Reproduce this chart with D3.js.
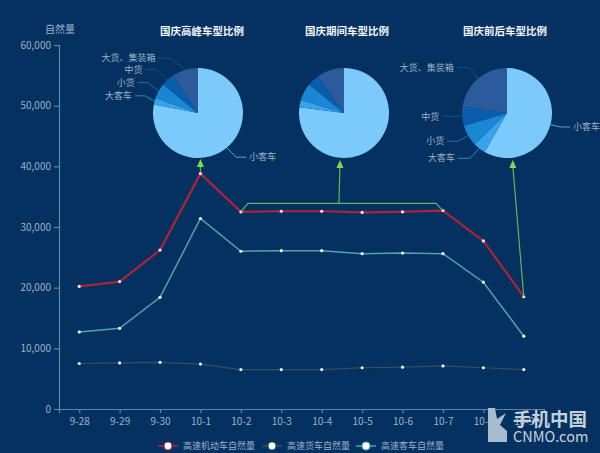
<!DOCTYPE html>
<html>
<head>
<meta charset="utf-8">
<script src="https://cdn.jsdelivr.net/npm/d3@7"></script>
<style>
html, body { margin: 0; padding: 0; background: #04315f; overflow: hidden; }
text { font-family: "Noto Sans CJK SC", "Noto Sans", sans-serif; }
</style>
</head>
<body>
<div id="chart"></div>
<script>
// chart data
let days = ['9-28', '9-29', '9-30', '10-1', '10-2', '10-3', '10-4', '10-5', '10-6', '10-7', '10-8', '10-9'];
let motorFlow = [20200, 21000, 26200, 38800, 32500, 32600, 32600, 32400, 32500, 32700, 27700, 18500];
let truckFlow = [7500, 7600, 7700, 7400, 6500, 6500, 6500, 6800, 6900, 7100, 6800, 6500];
let coachFlow = [12700, 13300, 18400, 31400, 26000, 26100, 26100, 25600, 25700, 25600, 20900, 12000];
let seriesNames = ['高速机动车自然量', '高速货车自然量', '高速客车自然量'];
let yTicks = [0, 10000, 20000, 30000, 40000, 50000, 60000];

let vehicleTypes = ['小客车', '大客车', '小货', '中货', '大货、集装箱'];
let peakShare = [78, 2.4, 5.5, 4.7, 9.4];
let holidayShare = [77, 2.7, 6.2, 4.2, 9.9];
let edgeShare = [58.3, 4.5, 7.6, 6.9, 22.7];
let pieTitles = ['国庆高峰车型比例', '国庆期间车型比例', '国庆前后车型比例'];

// configuration of svg/plot area
let config = {
    svg: {width: 600, height: 453},
    margin: {top: 45, right: 56, bottom: 44, left: 59},
    pieRadius: 45
};
let colors = {
    axis: '#5d86ab', text: '#9db2ca', title: '#f2f6fa', arrow: '#63b560', head: '#86d455',
    pie: ['#7bcafb', '#38a3ea', '#1a86d4', '#0a5dab', '#2b5b9b'],
    lines: ['#a9243c', '#2f5262', '#4fa3b3']
};

let svg = d3.select('#chart').append('svg')
    .attr('width', config.svg.width)
    .attr('height', config.svg.height);

let x = d3.scalePoint()
    .domain(days)
    .range([config.margin.left, config.svg.width - config.margin.right])
    .padding(0.5);
let y = d3.scaleLinear()
    .domain([0, 60000])
    .range([config.svg.height - config.margin.bottom, config.margin.top]);

// axes
let styleAxis = g => g
    .call(g => g.selectAll('.domain, .tick line').attr('stroke', colors.axis).attr('stroke-width', 1.2))
    .call(g => g.selectAll('text').attr('fill', colors.text).attr('font-size', 10));

svg.append('g')
    .attr('transform', `translate(0,${y(0)})`)
    .call(d3.axisBottom(x).tickSizeOuter(0).tickSize(4).tickPadding(5))
    .call(styleAxis);

svg.append('g')
    .attr('transform', `translate(${config.margin.left},0)`)
    .call(d3.axisLeft(y).tickValues(yTicks).tickFormat(d3.format(',')).tickSizeOuter(0).tickSize(5).tickPadding(3))
    .call(styleAxis);

svg.append('text')
    .attr('x', 60).attr('y', 33)
    .attr('text-anchor', 'middle')
    .attr('fill', colors.text)
    .attr('font-size', 10)
    .text('自然量');

// lines
let line = d3.line()
    .x((d, i) => x(days[i]))
    .y(d => y(d));

[truckFlow, coachFlow, motorFlow].forEach(values => {
    let idx = [motorFlow, truckFlow, coachFlow].indexOf(values);
    let widths = [2.2, 1.2, 1.5];
    svg.append('path')
        .datum(values)
        .attr('fill', 'none')
        .attr('stroke', colors.lines[idx])
        .attr('stroke-width', widths[idx])
        .attr('d', line);
    svg.append('g')
        .selectAll('circle')
        .data(values)
        .join('circle')
            .attr('cx', (d, i) => x(days[i]))
            .attr('cy', d => y(d))
            .attr('r', 1.6)
            .attr('fill', idx === 0 ? '#ffe9ee' : '#e8f6fa');
});

// pies
let pieCenters = [198, 344, 507];
let pieCenterY = 113;
let titleCenters = [202, 347, 505];
let pie = d3.pie().sort(null).value(d => d);
let arc = d3.arc().innerRadius(0).outerRadius(config.pieRadius);
let outer = d3.arc().innerRadius(config.pieRadius).outerRadius(config.pieRadius);
let elbow = d3.arc().innerRadius(config.pieRadius + 15).outerRadius(config.pieRadius + 15);

// label layout: offset of the leader's bend from its default spot, per pie and slice
let bendShift = [
    [[0, -2], [5, -1.5], [2, -1], [-2, 1], [-10, 2.5]],
    null,
    [[-5, -1.5], [0, -2], [3, -2], [0, -1], [2, 0]]
];
let tailLength = [
    [10, 10, 10, 10, 12],
    null,
    [10, 12, 11, 5, 13]
];

[peakShare, holidayShare, edgeShare].forEach((share, p) => {
    let g = svg.append('g')
        .attr('transform', `translate(${pieCenters[p]},${pieCenterY})`);
    let arcs = pie(share);

    g.selectAll('path.slice')
        .data(arcs)
        .join('path')
            .attr('class', 'slice')
            .attr('fill', (d, i) => colors.pie[i])
            .attr('d', arc);

    svg.append('text')
        .attr('x', titleCenters[p]).attr('y', 35)
        .attr('text-anchor', 'middle')
        .attr('fill', colors.title)
        .attr('font-size', 10.5)
        .attr('font-weight', 'bold')
        .text(pieTitles[p]);

    if (!bendShift[p]) return; // middle pie has no labels

    arcs.forEach((d, i) => {
        let start = outer.centroid(d);
        let bend = elbow.centroid(d);
        bend = [bend[0] + bendShift[p][i][0], bend[1] + bendShift[p][i][1]];
        let right = (d.startAngle + d.endAngle) / 2 < Math.PI;
        let end = [bend[0] + (right ? 1 : -1) * tailLength[p][i], bend[1]];
        g.append('path')
            .attr('fill', 'none')
            .attr('stroke', i === 0 ? colors.pie[0] : colors.pie[Math.min(i, 3)])
            .attr('stroke-opacity', 0.75)
            .attr('stroke-width', 1)
            .attr('d', d3.line()([start, bend, end]));
        g.append('text')
            .attr('x', end[0] + (right ? 3 : -3))
            .attr('y', end[1] + 3.2)
            .attr('text-anchor', right ? 'start' : 'end')
            .attr('fill', colors.text)
            .attr('font-size', 9)
            .text(vehicleTypes[i]);
    });
});

// green annotation arrows
let arrowGap = 11;
let pieBottom = pieCenterY + config.pieRadius;
let arrows = svg.append('g').attr('fill', 'none').attr('stroke', colors.arrow).attr('stroke-width', 1.2);
let head = (tipX, tipY) => svg.append('path')
    .attr('fill', colors.head)
    .attr('d', d3.line()([[tipX, tipY], [tipX - 3.5, tipY + 8], [tipX + 3.5, tipY + 8]]) + 'Z');

let bracketY = y(33900);
let bracketMid = (x(days[4]) + x(days[9])) / 2;
arrows.append('path').attr('d', d3.line()([
    [x(days[4]), y(motorFlow[4])],
    [x(days[4]) + 7, bracketY],
    [x(days[9]) - 7, bracketY],
    [x(days[9]), y(motorFlow[9])]
]));
arrows.append('path').attr('d', d3.line()([[bracketMid - 3, bracketY], [bracketMid - 2, pieBottom + 8]]));
head(bracketMid - 2, pieBottom + 2);

arrows.append('path').attr('d', d3.line()([[x(days[3]), y(motorFlow[3]) - 1], [x(days[3]), pieBottom + 8]]));
head(x(days[3]), pieBottom + 1);

arrows.append('path').attr('d', d3.line()([[x(days[11]), y(motorFlow[11])], [x(days[11]) - arrowGap, pieBottom + 8]]));
head(x(days[11]) - arrowGap, pieBottom + 2);

// legend
let legendMarks = [168, 272, 366];
let legend = svg.append('g');
seriesNames.forEach((name, i) => {
    let cx = legendMarks[i], cy = 446;
    legend.append('line')
        .attr('x1', cx - 10).attr('x2', cx + 10).attr('y1', cy).attr('y2', cy)
        .attr('stroke', colors.lines[i])
        .attr('stroke-width', 1.5);
    legend.append('circle')
        .attr('cx', cx).attr('cy', cy).attr('r', 4)
        .attr('fill', '#fff')
        .attr('stroke', colors.lines[i])
        .attr('stroke-width', 1.2);
    legend.append('text')
        .attr('x', cx + 15).attr('y', cy + 3.2)
        .attr('fill', colors.text)
        .attr('font-size', 9)
        .text(name);
});

// watermark
let mark = svg.append('g');
mark.append('path')
    .attr('fill', '#a9bccd')
    .attr('d', 'M488 408 L495 408 L497 419 L506 413 L500 425 L507 431 L507 442 L488 442 Z');
mark.append('text')
    .attr('x', 513).attr('y', 426)
    .attr('font-size', 18.5)
    .attr('font-weight', 'bold')
    .attr('fill', '#c5d2de')
    .text('手机中国');
mark.append('text')
    .attr('x', 513).attr('y', 442)
    .attr('font-size', 14.5)
    .attr('font-family', 'DejaVu Sans')
    .attr('fill', '#c5d2de')
    .text('CNMO.com');
</script>
</body>
</html>
